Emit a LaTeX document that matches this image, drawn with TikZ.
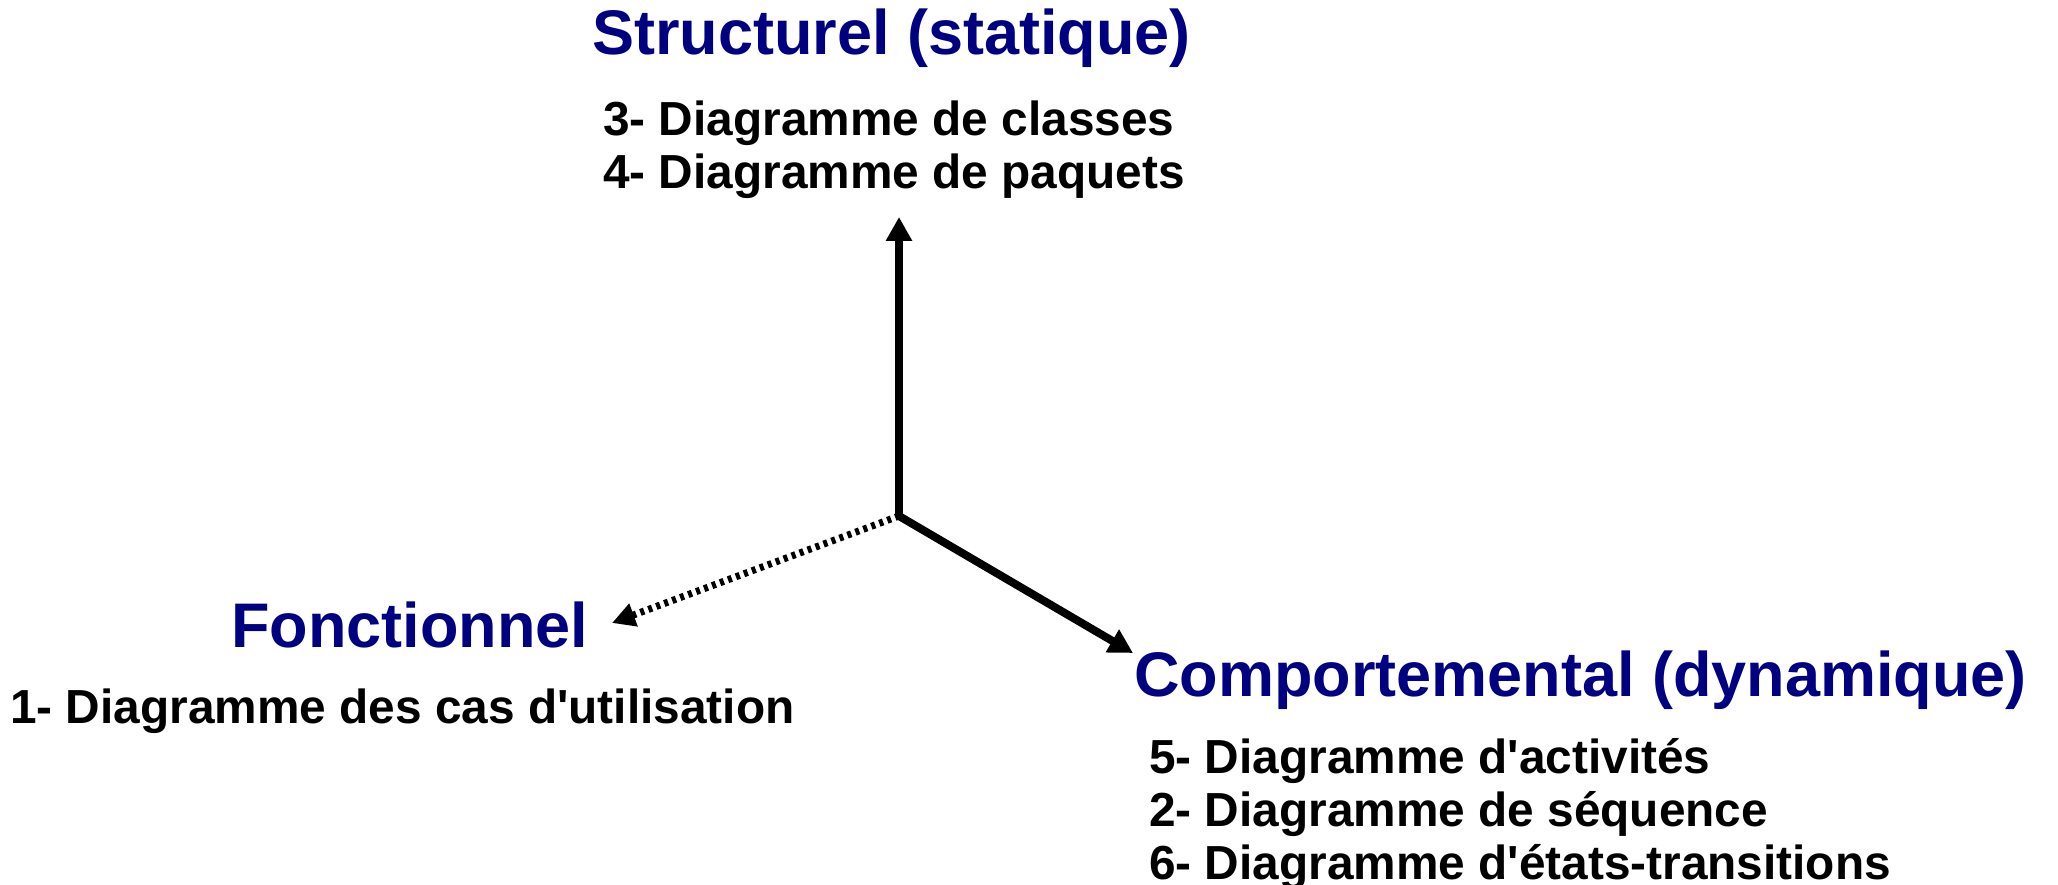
\documentclass[tikz,border=0pt]{standalone}
\usepackage{fontspec}
\setmainfont{Liberation Sans}
\usetikzlibrary{arrows.meta}
\definecolor{headblue}{RGB}{0,0,128}
\newcommand{\apos}{\textquotesingle}
\tikzset{
  heading/.style={anchor=base west, inner sep=0pt, text=headblue,
    font=\bfseries\fontsize{63}{70}\selectfont},
  item/.style={anchor=base west, inner sep=0pt, text=black,
    font=\bfseries\fontsize{47.8}{53}\selectfont},
  axis/.style={line width=8pt, -{Triangle[length=24pt,width=25pt]}},
  dotaxis/.style={line width=7pt, dash pattern=on 4pt off 4.5pt,
    -{Triangle[length=23pt,width=23pt]}}
}
\begin{document}
\begin{tikzpicture}[x=1pt,y=-1pt]
  \useasboundingbox (0,0) rectangle (2058,885);

  % axes meeting at the origin
  \coordinate (o) at (899,516);
  \coordinate (up) at (899,217);
  \coordinate (left) at (612,623);
  \coordinate (right) at (1133,653);
  \draw[axis] (o) -- (up);
  \draw[axis] (o) -- (right);
  \draw[dotaxis] (o) -- (left);

  % structural view
  \node[heading] (hs) at (592,55) {Structurel (statique)};
  \node[item] (s1) at (603,136) {3- Diagramme de classes};
  \node[item] (s2) at (603,189) {4- Diagramme de paquets};

  % functional view
  \node[heading] (hf) at (231,647) {Fonctionnel};
  \node[item] (f1) at (10,723) {1- Diagramme des cas d\apos utilisation};

  % behavioural view
  \node[heading] (hc) at (1134,696) {Comportemental (dynamique)};
  \node[item] (c1) at (1149,773) {5- Diagramme d\apos activités};
  \node[item] (c2) at (1149,826) {2- Diagramme de séquence};
  \node[item] (c3) at (1149,879) {6- Diagramme d\apos états-transitions};
\end{tikzpicture}
\end{document}
